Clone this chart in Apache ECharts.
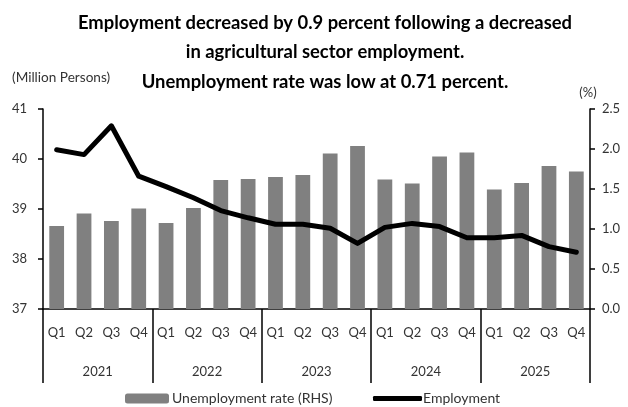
<!DOCTYPE html>
<html>
<head>
<meta charset="utf-8">
<script src="https://cdn.jsdelivr.net/npm/echarts@6/dist/echarts.min.js"></script>
<style>
  html, body { margin: 0; padding: 0; background: #ffffff; }
  #chart { width: 628px; height: 407px; }
</style>
</head>
<body>
<div id="chart"></div>
<script>
// Quarterly labour-market figures, 2021 Q1 – 2025 Q4
const quarters = ['Q1', 'Q2', 'Q3', 'Q4', 'Q1', 'Q2', 'Q3', 'Q4', 'Q1', 'Q2', 'Q3', 'Q4',
                  'Q1', 'Q2', 'Q3', 'Q4', 'Q1', 'Q2', 'Q3', 'Q4'];
const years = ['2021', '2022', '2023', '2024', '2025'];

// Employed persons, million (left axis, bars)
const employment = [38.66, 38.91, 38.76, 39.01,
                    38.72, 39.02, 39.58, 39.60,
                    39.64, 39.68, 40.11, 40.26,
                    39.59, 39.51, 40.05, 40.13,
                    39.39, 39.52, 39.86, 39.75];

// Unemployment rate, percent (right axis, line)
const unemploymentRate = [1.99, 1.93, 2.29, 1.66,
                          1.53, 1.39, 1.23, 1.14,
                          1.06, 1.06, 1.01, 0.82,
                          1.02, 1.07, 1.03, 0.89,
                          0.89, 0.92, 0.78, 0.71];

// Tick labels for the two value axes
const leftTicks = [37, 38, 39, 40, 41];
const rightTicks = [0.0, 0.5, 1.0, 1.5, 2.0, 2.5];

const titleLines = [
  'Employment decreased by 0.9 percent following a decreased',
  'in agricultural sector employment.',
  'Unemployment rate was low at 0.71 percent.'
];

const FONT = 'Lato, "Noto Sans", sans-serif';
const TEXT_COLOR = '#333333';
const AXIS_COLOR = '#000000';

const chart = echarts.init(document.getElementById('chart'), null, { renderer: 'canvas' });

const titleY = [23, 52, 82];

const option = {
  backgroundColor: '#ffffff',
  animation: false,
  graphic: [
    ...titleLines.map((t, i) => ({
      type: 'text',
      x: 325,
      y: titleY[i],
      style: {
        text: t,
        fill: '#000000',
        font: 'bold 18.4px ' + FONT,
        textAlign: 'center',
        textVerticalAlign: 'middle'
      }
    })),
    {
      type: 'text',
      x: 12,
      y: 78,
      style: {
        text: '(Million Persons)',
        fill: TEXT_COLOR,
        font: '13.6px ' + FONT,
        textAlign: 'left',
        textVerticalAlign: 'middle'
      }
    },
    {
      type: 'text',
      x: 588,
      y: 93,
      style: {
        text: '(%)',
        fill: TEXT_COLOR,
        font: '13px ' + FONT,
        textAlign: 'center',
        textVerticalAlign: 'middle'
      }
    }
  ],
  legend: [
    {
      data: ['Unemployment rate (RHS)'],
      left: 125,
      top: 391.5,
      itemWidth: 44,
      itemHeight: 10,
      padding: 0,
      textStyle: { color: TEXT_COLOR, fontSize: 14, fontFamily: FONT, padding: [0, 0, 0, -2] }
    },
    {
      data: [{ name: 'Employment', icon: 'roundRect' }],
      left: 373,
      top: 391.5,
      itemWidth: 49,
      itemHeight: 5,
      padding: 0,
      textStyle: { color: TEXT_COLOR, fontSize: 14, fontFamily: FONT, padding: [0, 0, 0, -4] }
    }
  ],
  grid: {
    left: 43,
    right: 38,
    top: 109,
    bottom: 98,
    containLabel: false
  },
  xAxis: [
    {
      type: 'category',
      data: quarters,
      position: 'bottom',
      boundaryGap: true,
      axisLine: { show: true, lineStyle: { color: AXIS_COLOR, width: 1.5 } },
      axisTick: { show: false },
      axisLabel: {
        interval: 0,
        margin: 17,
        color: TEXT_COLOR,
        fontSize: 13,
        fontFamily: FONT
      },
      splitLine: { show: false }
    },
    {
      type: 'category',
      data: years,
      position: 'bottom',
      boundaryGap: true,
      axisLine: { show: false },
      axisTick: {
        show: true,
        inside: false,
        length: 74,
        lineStyle: { color: AXIS_COLOR, width: 1.5 }
      },
      axisLabel: {
        interval: 0,
        margin: 56,
        color: TEXT_COLOR,
        fontSize: 13,
        fontFamily: FONT
      },
      splitLine: { show: false }
    }
  ],
  yAxis: [
    {
      type: 'value',
      position: 'left',
      min: leftTicks[0],
      max: leftTicks[leftTicks.length - 1],
      interval: 1,
      axisLine: { show: true, lineStyle: { color: AXIS_COLOR, width: 1.5 } },
      axisTick: { show: true, length: 5, lineStyle: { color: AXIS_COLOR, width: 1.5 } },
      axisLabel: {
        margin: 16,
        color: TEXT_COLOR,
        fontSize: 13,
        fontFamily: FONT,
        formatter: v => String(v)
      },
      splitLine: { show: false }
    },
    {
      type: 'value',
      position: 'right',
      min: rightTicks[0],
      max: rightTicks[rightTicks.length - 1],
      interval: 0.5,
      axisLine: { show: true, lineStyle: { color: AXIS_COLOR, width: 1.5 } },
      axisTick: { show: true, length: 5, lineStyle: { color: AXIS_COLOR, width: 1.5 } },
      axisLabel: {
        margin: 12,
        color: TEXT_COLOR,
        fontSize: 13,
        fontFamily: FONT,
        formatter: v => v.toFixed(1)
      },
      splitLine: { show: false }
    }
  ],
  series: [
    {
      name: 'Unemployment rate (RHS)',
      type: 'bar',
      xAxisIndex: 0,
      yAxisIndex: 0,
      data: employment,
      barWidth: '54%',
      itemStyle: { color: '#808080' }
    },
    {
      name: 'Employment',
      type: 'line',
      xAxisIndex: 0,
      yAxisIndex: 1,
      data: unemploymentRate,
      symbol: 'none',
      lineStyle: { color: '#000000', width: 5, cap: 'round', join: 'round' },
      itemStyle: { color: '#000000' },
      z: 3
    }
  ]
};

chart.setOption(option);
</script>
</body>
</html>
